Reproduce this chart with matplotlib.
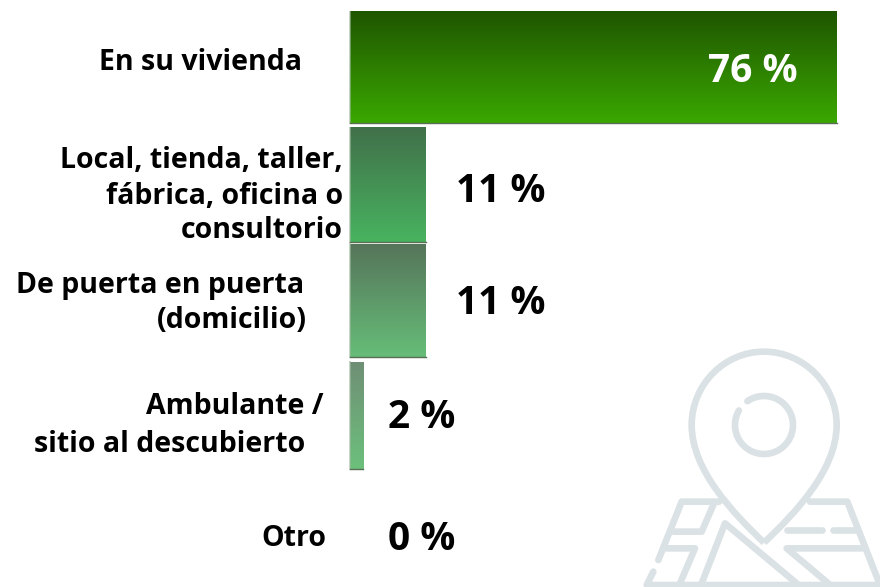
#!/usr/bin/env python
# barras horizontales con degradado + icono de mapa
import numpy as np
import matplotlib
matplotlib.use('Agg')
import matplotlib.pyplot as plt
from matplotlib.colors import LinearSegmentedColormap
from matplotlib.path import Path
from matplotlib.patches import PathPatch

categories = ['En su vivienda', 'Local, tienda, taller,\nfábrica, oficina o\nconsultorio',
              'De puerta en puerta\n(domicilio)', 'Ambulante /\nsitio al descubierto', 'Otro']
bar_values = [76, 11.8, 11.8, 2.1, 0]
value_labels = ['76 %', '11 %', '11 %', '2 %', '0 %']

top_colors = ['#1f5500', '#41704a', '#56755a', '#6f8f75', '#6f8f75']
bottom_colors = ['#3aa800', '#48b35f', '#66bd78', '#6cc07c', '#6cc07c']
bar_heights = [0.965, 0.99, 0.97, 0.915, 0.9]
bar_pos = [0.0, 1.013, 2.009, 3.0, 4.0]

# layout of the texts in pixels
cat_right = [[302], [343, 343, 343], [304, 307], [324, 305], [326]]
cat_y = [[63], [161, 196, 230], [286, 321], [406, 444], [538]]
val_x = [798, 545, 545, 455, 455]
val_y = [71, 192, 303, 418, 540]
val_colors = ['white', 'black', 'black', 'black', 'black']

plt.rcParams['font.family'] = ['Open Sans', 'DejaVu Sans']
W, H = 880, 587
fig = plt.figure(figsize=(W / 100, H / 100), dpi=100)
ax = fig.add_axes([0, 0, 1, 1])
scale = 487 / 76.0  # pixels per percent
ax.axis('off')

for i, v in enumerate(bar_values):
    if v <= 0:
        continue
    h = bar_heights[i]
    p = bar_pos[i]
    cm = LinearSegmentedColormap.from_list('g', [top_colors[i], bottom_colors[i]])
    grad = np.linspace(0, 1, 128).reshape(-1, 1)
    ax.imshow(grad, cmap=cm, aspect='auto', zorder=2, interpolation='bilinear',
              extent=(0, v, p + h / 2, p - h / 2))
    # pale left edge, dark bottom edge
    ax.plot([0.06, 0.06], [p - h / 2, p + h / 2], color='#a0b8a0', lw=1.4, alpha=0.6, zorder=3)
    ax.plot([0, v], [p + h / 2, p + h / 2], color='#5a6e55', lw=1.0, zorder=3)
ax.set_xlim(-350 / scale, (W - 350) / scale)
ax.set_ylim((H - 67.5) / 116.0, -67.5 / 116.0)

# map pin icon, drawn in zoomed crop coords
ic = fig.add_axes([640 / W, 0, 240 / W, 247 / H], zorder=1)
ic.set_xlim(0, 720)
ic.set_ylim(741, 0)
ic.axis('off')
ic.patch.set_alpha(0)
icon_col = '#dbe2e5'
lw = 4.8
kw = dict(color=icon_col, lw=lw, solid_capstyle='round', solid_joinstyle='round')
pin = Path([(372, 608), (280, 520), (155, 390), (155, 255), (155, 135), (252, 35), (372, 35),
            (492, 35), (590, 135), (590, 255), (590, 390), (465, 520), (372, 608)],
           [Path.MOVETO] + [Path.CURVE4] * 12)
ic.add_patch(PathPatch(pin, fc='none', ec=icon_col, lw=lw, joinstyle='round'))
t = np.radians(np.linspace(-125, 210, 80))
ic.plot(372 + 87 * np.cos(t), 255 + 87 * np.sin(t), **kw)
for seg in [[(238, 485), (125, 485), (55, 660)], [(40, 695), (20, 735), (720, 735)],
            [(510, 485), (622, 485), (720, 735)],
            [(222, 490), (185, 575), (100, 575)], [(80, 625), (165, 625), (120, 730)],
            [(185, 730), (255, 550), (470, 730)],
            [(440, 570), (545, 570)], [(580, 570), (650, 570)],
            [(670, 625), (440, 625), (565, 730)]]:
    ic.plot(*zip(*seg), **kw)

for i, cat in enumerate(categories):
    for line, x, y in zip(cat.split('\n'), cat_right[i], cat_y[i]):
        fig.text(x / W, 1 - y / H, line, ha='right', va='center', fontsize=20.5,
                 fontweight='bold', color='black')
for i, lab in enumerate(value_labels):
    fig.text(val_x[i] / W, 1 - val_y[i] / H, lab, ha='right', va='center', fontsize=28,
             fontweight='bold', color=val_colors[i], zorder=5)

fig.savefig('out.png', dpi=100)
